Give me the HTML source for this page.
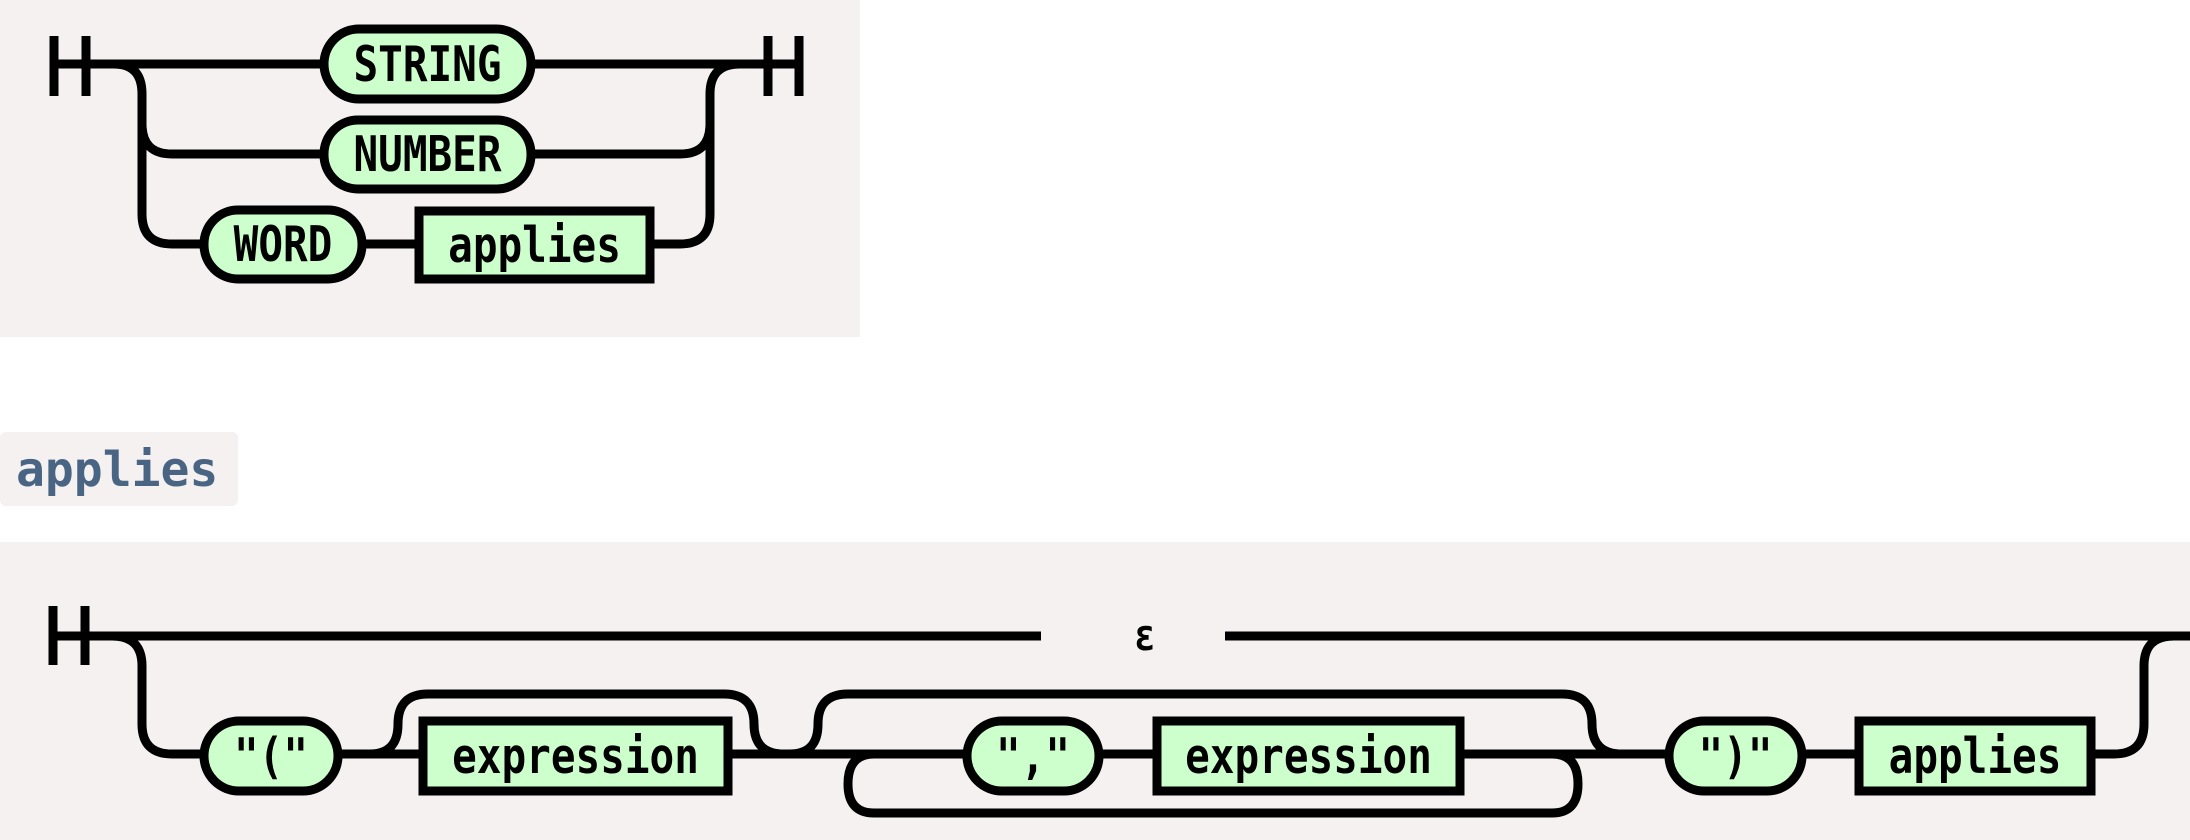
<!DOCTYPE html>
<html><head><meta charset="utf-8"><style>
html,body{margin:0;padding:0;background:#fff;width:2190px;height:840px;overflow:hidden}
svg{position:absolute;left:0;top:0}
text{font-family:"DejaVu Sans Mono","Liberation Mono",monospace;font-weight:bold;font-size:41px;fill:#000;text-anchor:middle;dominant-baseline:central}
.l{fill:none;stroke:#000;stroke-width:9}
.n{fill:#ccffcc;stroke:#000;stroke-width:9}
</style></head><body>
<svg width="2190" height="840" viewBox="0 0 2190 840">
<rect x="0" y="0" width="860" height="337" fill="#f4f1f0"/>
<rect x="0" y="432" width="238" height="74" rx="6" fill="#f4f1f0"/>
<text x="16" y="470" style="text-anchor:start;fill:#4a6584;font-size:48px">applies</text>
<rect x="0" y="542" width="2190" height="298" fill="#f4f1f0"/>

<!-- top diagram -->
<path class="l" d="M54 36V96M86 36V96"/>
<path class="l" d="M54 64H324M531 64H799"/>
<path class="l" d="M114 64Q142 64 142 94V214Q142 244 172 244H204M142 124Q142 154 172 154H324"/>
<path class="l" d="M362 244H419M650 244H680Q710 244 710 214V94Q710 64 740 64M531 154H680Q710 154 710 124"/>
<path class="l" d="M768 36V96M799 36V96"/>
<rect class="n" x="324" y="29" width="207" height="70" rx="35"/><text transform="translate(427.5 64) scale(1 1.2)">STRING</text>
<rect class="n" x="324" y="120" width="207" height="69" rx="34"/><text transform="translate(427.5 154) scale(1 1.2)">NUMBER</text>
<rect class="n" x="204" y="210" width="158" height="69" rx="34"/><text transform="translate(283 244) scale(1 1.2)">WORD</text>
<rect class="n" x="419" y="211" width="231" height="68"/><text transform="translate(534.5 245) scale(1 1.2)">applies</text>

<!-- bottom diagram -->
<path class="l" d="M53 606V665M85 606V665"/>
<path class="l" d="M53 636H1041M1225 636H2190"/>
<text transform="translate(1145 636) scale(1 1.2)" style="font-size:36px">ε</text>
<path class="l" d="M112 636Q142 636 142 666V724Q142 754 172 754H204"/>
<path class="l" d="M338 754H423M370 754Q398 754 398 724Q398 694 428 694H724Q754 694 754 724Q754 754 784 754"/>
<path class="l" d="M728 754H967M1099 754H1157M1460 754H1669M1802 754H1859M2091 754H2114Q2144 754 2144 724V666Q2144 636 2174 636"/>
<path class="l" d="M790 754Q818 754 818 724Q818 694 848 694H1562Q1592 694 1592 724Q1592 754 1622 754"/>
<path class="l" d="M874 754Q848 754 848 784Q848 813 874 813H1552Q1578 813 1578 784Q1578 754 1552 754"/>
<rect class="n" x="204" y="721" width="134" height="70" rx="35"/><text transform="translate(271 756) scale(1 1.2)">"("</text>
<rect class="n" x="423" y="721" width="305" height="70"/><text transform="translate(575.5 756) scale(1 1.2)">expression</text>
<rect class="n" x="967" y="721" width="132" height="70" rx="35"/><text transform="translate(1033 756) scale(1 1.2)">","</text>
<rect class="n" x="1157" y="721" width="303" height="70"/><text transform="translate(1308.5 756) scale(1 1.2)">expression</text>
<rect class="n" x="1669" y="721" width="133" height="70" rx="35"/><text transform="translate(1735.5 756) scale(1 1.2)">")"</text>
<rect class="n" x="1859" y="721" width="232" height="70"/><text transform="translate(1975 756) scale(1 1.2)">applies</text>
</svg>
</body></html>
